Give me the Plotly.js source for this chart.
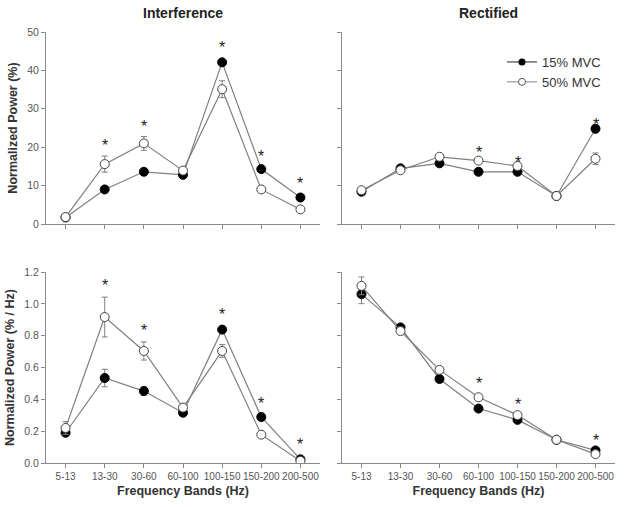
<!DOCTYPE html>
<html>
<head>
<meta charset="utf-8">
<script src="https://cdn.plot.ly/plotly-3.0.1.min.js"></script>
<style>html,body{margin:0;padding:0;background:#fff}#chart{width:624px;height:507px}</style>
</head>
<body>
<div id="chart"></div>
<script>
// ---- data ----
const bands = ['5-13','13-30','30-60','60-100','100-150','150-200','200-500'];

// Interference, Normalized Power (%)
const intPct15 = [1.7, 9.0, 13.6, 12.8, 42.1, 14.3, 6.9];
const intPct15Err = [0.3, 0.8, 0.7, 0.5, 0.8, 0.6, 0.5];
const intPct50 = [1.8, 15.6, 21.0, 13.9, 35.1, 9.0, 3.8];
const intPct50Err = [0.4, 2.1, 1.8, 0.6, 2.2, 0.7, 0.4];
const intPctStar = [null, 21.0, 26.0, null, 46.5, 18.2, 11.0];

// Rectified, Normalized Power (%)
const recPct15 = [8.4, 14.5, 15.8, 13.6, 13.6, 7.3, 24.8];
const recPct15Err = [0.5, 0.5, 0.6, 0.6, 0.5, 0.4, 1.0];
const recPct50 = [8.8, 14.0, 17.5, 16.5, 15.1, 7.3, 17.0];
const recPct50Err = [0.5, 0.5, 0.6, 0.6, 0.6, 0.4, 1.5];
const recPctStar = [null, null, null, 19.2, 16.5, null, 26.4];

// Interference, Normalized Power (% / Hz)
const intHz15 = [0.19, 0.534, 0.452, 0.316, 0.838, 0.289, 0.023];
const intHz15Err = [0.015, 0.055, 0.026, 0.01, 0.015, 0.01, 0.003];
const intHz50 = [0.22, 0.917, 0.704, 0.348, 0.704, 0.178, 0.013];
const intHz50Err = [0.04, 0.125, 0.057, 0.015, 0.04, 0.01, 0.003];
const intHzStar = [null, 1.127, 0.844, null, 0.944, 0.387, 0.126];

// Rectified, Normalized Power (% / Hz)
const recHz15 = [1.061, 0.852, 0.528, 0.342, 0.271, 0.146, 0.079];
const recHz15Err = [0.06, 0.015, 0.02, 0.012, 0.01, 0.005, 0.005];
const recHz50 = [1.113, 0.829, 0.585, 0.413, 0.301, 0.146, 0.056];
const recHz50Err = [0.056, 0.015, 0.02, 0.012, 0.01, 0.005, 0.005];
const recHzStar = [null, null, null, 0.511, 0.378, null, 0.157];

const seriesNames = ['15% MVC', '50% MVC'];

// ---- styles ----
const lineCol = '#7f7f7f';
const axCol = '#8a8a8a';
const tickCol = '#555';
const font = 'Liberation Sans, Arial, sans-serif';

const starAnnotations = [];
function pair(y15, e15, y50, e50, stars, xa, ya) {
  const common = {x: bands, xaxis: xa, yaxis: ya, type: 'scatter', mode: 'lines+markers', showlegend: false,
                  line: {color: lineCol, width: 1.2}};
  stars.forEach((v, i) => {
    if (v === null) return;
    starAnnotations.push({xref: xa, yref: ya, x: bands[i], y: v, text: '*', showarrow: false,
      xanchor: 'center', yanchor: 'middle', yshift: -2,
      font: {family: font, size: 16, color: '#222'}});
  });
  return [
    Object.assign({}, common, {y: y15, name: seriesNames[0],
      marker: {symbol: 'circle', size: 9, color: '#000', line: {color: '#000', width: 1}},
      error_y: {type: 'data', array: e15, visible: true, color: lineCol, thickness: 1, width: 3}}),
    Object.assign({}, common, {y: y50, name: seriesNames[1],
      marker: {symbol: 'circle', size: 9, color: '#fff', line: {color: '#444', width: 1}},
      error_y: {type: 'data', array: e50, visible: true, color: lineCol, thickness: 1, width: 3}})
  ];
}

const data = [].concat(
  pair(intPct15, intPct15Err, intPct50, intPct50Err, intPctStar, 'x', 'y'),
  pair(recPct15, recPct15Err, recPct50, recPct50Err, recPctStar, 'x2', 'y2'),
  pair(intHz15, intHz15Err, intHz50, intHz50Err, intHzStar, 'x3', 'y3'),
  pair(recHz15, recHz15Err, recHz50, recHz50Err, recHzStar, 'x4', 'y4'),
  [
    {x: [null], y: [null], xaxis: 'x2', yaxis: 'y2', type: 'scatter', mode: 'lines+markers', name: seriesNames[0],
     line: {color: '#444', width: 1.2}, marker: {size: 7, color: '#000'}},
    {x: [null], y: [null], xaxis: 'x2', yaxis: 'y2', type: 'scatter', mode: 'lines+markers', name: seriesNames[1],
     line: {color: '#999', width: 1.2}, marker: {size: 7, color: '#fff', line: {color: '#555', width: 1}}}
  ]
);

function xax(dom, anchor, labels, title) {
  return {domain: dom, anchor: anchor, type: 'category', range: [-0.5, 6.5],
    showline: true, linecolor: axCol, linewidth: 1, showgrid: false, zeroline: false,
    ticks: 'outside', ticklen: 4, tickcolor: axCol, showticklabels: labels, tickangle: 0,
    tickfont: {family: font, size: 10, color: tickCol},
    title: title ? {text: title, font: {family: font, size: 12.5, color: '#333', weight: 'bold'}, standoff: 5} : undefined};
}
function yax(dom, anchor, rng, dtick, fmt, labels, title) {
  return {domain: dom, anchor: anchor, range: rng, dtick: dtick, tickformat: fmt,
    showline: true, linecolor: axCol, linewidth: 1, showgrid: false, zeroline: false,
    ticks: 'outside', ticklen: 4, tickcolor: axCol, showticklabels: labels,
    tickfont: {family: font, size: 10.5, color: tickCol},
    title: title ? {text: title, font: {family: font, size: 12.5, color: '#333', weight: 'bold'}, standoff: 6} : undefined};
}

const W = 624, H = 507;
const xL = [46 / W, 320 / W], xR = [342 / W, 615 / W];
const yT = [1 - 224 / H, 1 - 32 / H], yB = [1 - 463 / H, 1 - 272 / H];

const layout = {
  width: W, height: H, margin: {l: 0, r: 0, t: 0, b: 0},
  paper_bgcolor: '#fff', plot_bgcolor: 'rgba(0,0,0,0)',
  font: {family: font, color: '#333'},
  xaxis: xax(xL, 'y', false),
  yaxis: yax(yT, 'x', [0, 50], 10, '', true, 'Normalized Power (%)'),
  xaxis2: xax(xR, 'y2', false),
  yaxis2: yax(yT, 'x2', [0, 50], 10, '', false),
  xaxis3: xax(xL, 'y3', true, 'Frequency Bands (Hz)'),
  yaxis3: yax(yB, 'x3', [0, 1.2], 0.2, '.1f', true, 'Normalized Power (% / Hz)'),
  xaxis4: xax(xR, 'y4', true, 'Frequency Bands (Hz)'),
  yaxis4: yax(yB, 'x4', [0, 1.2], 0.2, '.1f', false),
  showlegend: true,
  legend: {x: 502 / W, y: 1 - 47 / H, xanchor: 'left', yanchor: 'top', bgcolor: 'rgba(0,0,0,0)',
    font: {family: font, size: 13, color: '#333'}, itemwidth: 30, tracegroupgap: 0},
  annotations: [
    {text: '<b>Interference</b>', xref: 'paper', yref: 'paper', x: 183 / W, y: 1 - 13 / H,
     xanchor: 'center', yanchor: 'middle', showarrow: false, font: {family: font, size: 14, color: '#222'}},
    {text: '<b>Rectified</b>', xref: 'paper', yref: 'paper', x: 488 / W, y: 1 - 13 / H,
     xanchor: 'center', yanchor: 'middle', showarrow: false, font: {family: font, size: 14, color: '#222'}}
  ].concat(starAnnotations)
};

Plotly.newPlot('chart', data, layout, {displayModeBar: false, staticPlot: true});
</script>
</body>
</html>
